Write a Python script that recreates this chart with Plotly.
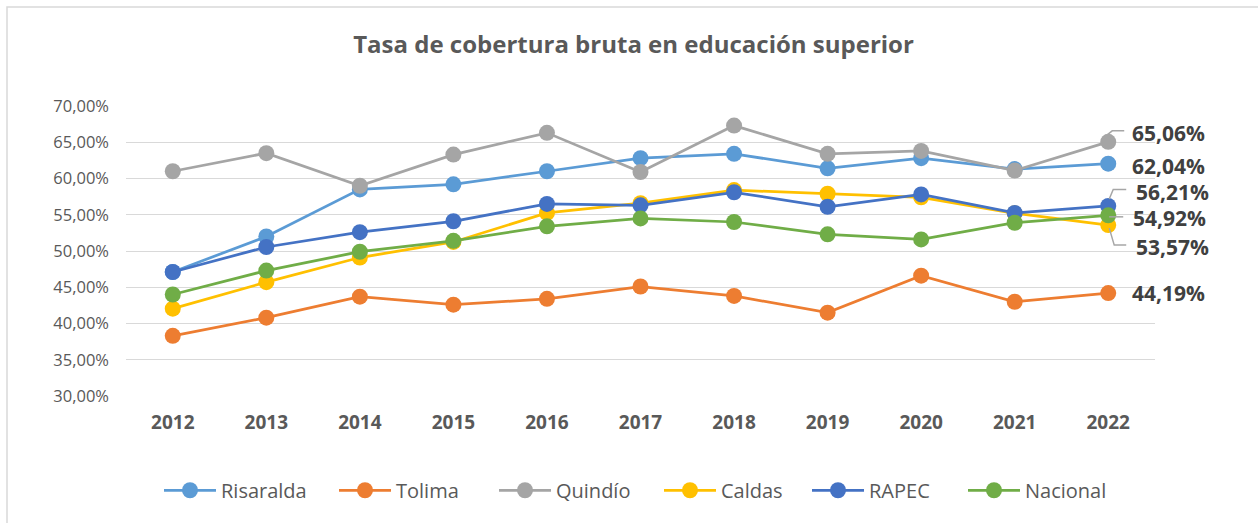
import plotly.graph_objects as go

years = [2012, 2013, 2014, 2015, 2016, 2017, 2018, 2019, 2020, 2021, 2022]
risaralda = [47.1, 52.0, 58.5, 59.2, 61.0, 62.8, 63.4, 61.4, 62.8, 61.3, 62.04]
tolima = [38.3, 40.8, 43.7, 42.6, 43.4, 45.1, 43.8, 41.5, 46.6, 43.0, 44.19]
quindio = [61.0, 63.5, 59.0, 63.3, 66.3, 60.9, 67.3, 63.4, 63.8, 61.1, 65.06]
caldas = [42.05, 45.7, 49.1, 51.25, 55.25, 56.6, 58.4, 57.9, 57.4, 55.2, 53.57]
rapec = [47.1, 50.55, 52.6, 54.1, 56.5, 56.3, 58.1, 56.1, 57.8, 55.25, 56.21]
nacional = [44.0, 47.3, 49.9, 51.4, 53.4, 54.5, 54.0, 52.3, 51.6, 53.9, 54.92]

series_names = ["Risaralda", "Tolima", "Quindío", "Caldas", "RAPEC", "Nacional"]
series_values = [risaralda, tolima, quindio, caldas, rapec, nacional]
series_colors = ["#5B9BD5", "#ED7D31", "#A5A5A5", "#FFC000", "#4472C4", "#70AD47"]

title_text = "Tasa de cobertura bruta en educación superior"
y_ticks = [30, 35, 40, 45, 50, 55, 60, 65, 70]

FONT = "Open Sans"
W, H = 1258, 523
ML, MR, MT, MB = 126, 103, 106, 127
pw = W - ML - MR
ph = H - MT - MB

# legend marker centre positions (px) for each series
legend_marker_px = [190, 365, 525, 690, 838, 994]
ITEMW = 52

fig = go.Figure()
legend_layouts = {}
for i, (name, vals, col) in enumerate(zip(series_names, series_values, series_colors)):
    lname = "legend" if i == 0 else f"legend{i + 1}"
    fig.add_trace(go.Scatter(
        x=years, y=vals, name=name, mode="lines+markers",
        line=dict(color=col, width=2.75),
        marker=dict(color=col, size=16),
        cliponaxis=False, legend=lname,
    ))
    legend_layouts[lname] = dict(
        orientation="h", x=(legend_marker_px[i] - 31 - ML) / pw, xanchor="left",
        y=-0.325, yanchor="middle", bgcolor="rgba(0,0,0,0)",
        font=dict(family=FONT, size=20, color="#595959"), itemwidth=ITEMW,
    )

# data labels for the last point (offsets in pixels, as in the reference)
label_offsets = {
    "Quindío": (22, 9), "Risaralda": (22, -2), "RAPEC": (26, 14),
    "Nacional": (23, -3), "Caldas": (26, -22), "Tolima": (22, 0),
}
for name, vals in zip(series_names, series_values):
    dx, dy = label_offsets[name]
    v = vals[-1]
    fig.add_annotation(
        x=years[-1], y=v, xref="x", yref="y",
        text=f"{v:.2f}%".replace(".", ","),
        showarrow=False, xanchor="left", yanchor="middle",
        xshift=dx, yshift=dy,
        font=dict(family=FONT, size=21, color="#404040", weight="bold"),
    )

# leader lines (pixel offsets from the data point)
leader_paths = {
    "Quindío": "M -1,7 L 4,11 L 16,11",
    "RAPEC": "M 1,7 L 5,16.5 L 18,16.5",
    "Nacional": "M 1,-1.5 L 15,-1.5",
    "Caldas": "M 1,-3 L 6,-20 L 18,-20",
}
for name, vals in zip(series_names, series_values):
    if name in leader_paths:
        fig.add_shape(
            type="path", xref="x", yref="y",
            xsizemode="pixel", ysizemode="pixel",
            xanchor=years[-1], yanchor=vals[-1],
            path=leader_paths[name],
            line=dict(color="#A6A6A6", width=1.5),
            layer="above",
        )

# outer chart border (left and top visible)
fig.add_shape(
    type="rect", xref="paper", yref="paper",
    x0=(7 - ML) / pw, x1=(W + 10 - ML) / pw,
    y0=-(H + 10 - MT - ph) / ph, y1=(H - MB - 7) / ph,
    line=dict(color="#D9D9D9", width=1.5), fillcolor="rgba(0,0,0,0)",
    layer="below",
)

fig.update_layout(
    width=W, height=H,
    margin=dict(l=ML, r=MR, t=MT, b=MB),
    paper_bgcolor="white", plot_bgcolor="white",
    title=dict(text=title_text, x=0.5036, xanchor="center", y=1 - 45 / H, yanchor="middle",
               xref="container", yref="container",
               font=dict(family=FONT, size=24, color="#595959", weight="bold")),
    showlegend=True,
    xaxis=dict(
        range=[2011.5, 2022.5], tickvals=years, ticktext=[str(y) for y in years],
        showgrid=False, zeroline=False, showline=False,
        tickfont=dict(family=FONT, size=19, color="#595959", weight="bold"),
        ticklabelstandoff=13,
    ),
    yaxis=dict(
        range=[30, 70], tickvals=y_ticks,
        ticktext=[f"{v:.2f}%".replace(".", ",") for v in y_ticks],
        showgrid=True, gridcolor="#D9D9D9", gridwidth=1.3, zeroline=False, showline=False,
        tickfont=dict(family=FONT, size=16.5, color="#595959"),
        ticklabelstandoff=16,
    ),
    **legend_layouts,
)

fig.write_html("out.html", config={"displayModeBar": False},
               post_script="document.body.style.margin='0';")
